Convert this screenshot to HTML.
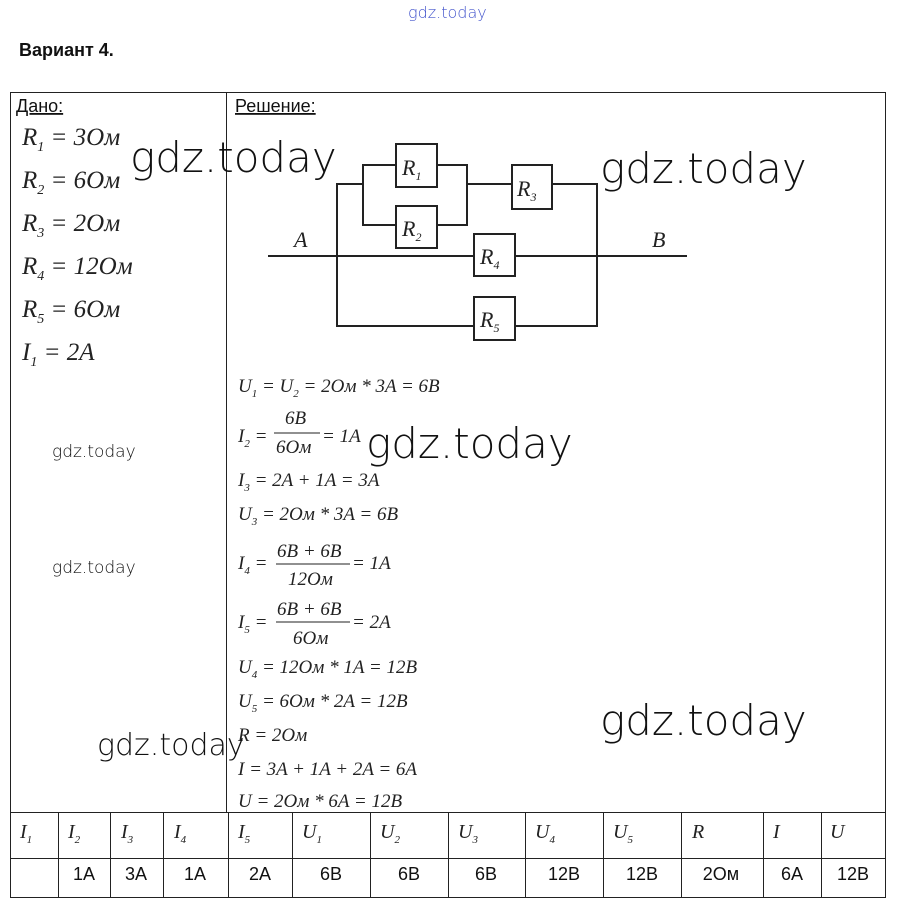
<!DOCTYPE html>
<html><head><meta charset="utf-8"><style>
body{margin:0;background:#fff}
svg{display:block}
.f{font-family:"Liberation Serif",serif;font-style:italic;fill:#222}
.s{font-family:"Liberation Sans",sans-serif;fill:#111}
.w{font-family:"DejaVu Sans","Liberation Sans",sans-serif;font-weight:200;fill:#111}
</style></head><body>
<svg width="897" height="911" xmlns="http://www.w3.org/2000/svg">
<text x="408" y="18" class="w" font-size="16" fill="#3344cc" style="fill:#4455cc">gdz.today</text>
<text x="19" y="56" class="s" font-size="18" font-weight="bold">Вариант 4.</text>
<g stroke="#222" stroke-width="1" fill="none">
<rect x="10.5" y="92.5" width="875" height="805"/>
<line x1="226.5" y1="92" x2="226.5" y2="812"/>
<line x1="10" y1="812.5" x2="886" y2="812.5"/>
<line x1="10" y1="858.5" x2="886" y2="858.5"/>
<line x1="58.5" y1="812" x2="58.5" y2="897"/>
<line x1="110.5" y1="812" x2="110.5" y2="897"/>
<line x1="163.5" y1="812" x2="163.5" y2="897"/>
<line x1="228.5" y1="812" x2="228.5" y2="897"/>
<line x1="292.5" y1="812" x2="292.5" y2="897"/>
<line x1="370.5" y1="812" x2="370.5" y2="897"/>
<line x1="448.5" y1="812" x2="448.5" y2="897"/>
<line x1="525.5" y1="812" x2="525.5" y2="897"/>
<line x1="603.5" y1="812" x2="603.5" y2="897"/>
<line x1="681.5" y1="812" x2="681.5" y2="897"/>
<line x1="763.5" y1="812" x2="763.5" y2="897"/>
<line x1="821.5" y1="812" x2="821.5" y2="897"/>
</g>
<text x="16" y="112" class="s" font-size="18" text-decoration="underline">Дано:</text>
<text x="235" y="112" class="s" font-size="18" text-decoration="underline">Решение:</text>
<g class="f" font-size="25">
<text x="22" y="145">R<tspan font-size="14" dy="6">1</tspan><tspan dy="-6"> = 3Ом</tspan></text>
<text x="22" y="188">R<tspan font-size="14" dy="6">2</tspan><tspan dy="-6"> = 6Ом</tspan></text>
<text x="22" y="231">R<tspan font-size="14" dy="6">3</tspan><tspan dy="-6"> = 2Ом</tspan></text>
<text x="22" y="274">R<tspan font-size="14" dy="6">4</tspan><tspan dy="-6"> = 12Ом</tspan></text>
<text x="22" y="317">R<tspan font-size="14" dy="6">5</tspan><tspan dy="-6"> = 6Ом</tspan></text>
<text x="22" y="360">I<tspan font-size="14" dy="6">1</tspan><tspan dy="-6"> = 2A</tspan></text>
</g>
<g stroke="#222" stroke-width="2" fill="none">
<line x1="268" y1="256" x2="687" y2="256"/>
<polyline points="363,184 337,184 337,326 597,326 597,184 552,184"/>
<polyline points="396,165 363,165 363,225 396,225"/>
<polyline points="437,165 467,165 467,225 437,225"/>
<line x1="467" y1="184" x2="512" y2="184"/>
<rect x="396" y="144" width="41" height="43" fill="#fff"/>
<rect x="396" y="206" width="41" height="42" fill="#fff"/>
<rect x="512" y="165" width="40" height="44" fill="#fff"/>
<rect x="474" y="234" width="41" height="42" fill="#fff"/>
<rect x="474" y="297" width="41" height="43" fill="#fff"/>
</g>
<g class="f" font-size="22">
<text x="402" y="175">R<tspan font-size="12" dy="5">1</tspan></text>
<text x="402" y="236">R<tspan font-size="12" dy="5">2</tspan></text>
<text x="517" y="196">R<tspan font-size="12" dy="5">3</tspan></text>
<text x="480" y="264">R<tspan font-size="12" dy="5">4</tspan></text>
<text x="480" y="327">R<tspan font-size="12" dy="5">5</tspan></text>
<text x="294" y="247">A</text>
<text x="652" y="247">B</text>
</g>
<g class="f" font-size="19">
<text x="238" y="392">U<tspan font-size="11" dy="5">1</tspan><tspan dy="-5"> = U</tspan><tspan font-size="11" dy="5">2</tspan><tspan dy="-5"> = 2Ом * 3A = 6B</tspan></text>
<text x="238" y="442">I<tspan font-size="11" dy="5">2</tspan><tspan dy="-5"> =</tspan></text>
<text x="285" y="424">6B</text><line x1="274" y1="433" x2="320" y2="433" stroke="#222"/><text x="276" y="453">6Ом</text>
<text x="322" y="442">= 1A</text>
<text x="238" y="486">I<tspan font-size="11" dy="5">3</tspan><tspan dy="-5"> = 2A + 1A = 3A</tspan></text>
<text x="238" y="520">U<tspan font-size="11" dy="5">3</tspan><tspan dy="-5"> = 2Ом * 3A = 6B</tspan></text>
<text x="238" y="569">I<tspan font-size="11" dy="5">4</tspan><tspan dy="-5"> =</tspan></text>
<text x="277" y="557">6B + 6B</text><line x1="276" y1="564" x2="350" y2="564" stroke="#222"/><text x="288" y="585">12Ом</text>
<text x="352" y="569">= 1A</text>
<text x="238" y="628">I<tspan font-size="11" dy="5">5</tspan><tspan dy="-5"> =</tspan></text>
<text x="277" y="615">6B + 6B</text><line x1="276" y1="622" x2="350" y2="622" stroke="#222"/><text x="293" y="644">6Ом</text>
<text x="352" y="628">= 2A</text>
<text x="238" y="673">U<tspan font-size="11" dy="5">4</tspan><tspan dy="-5"> = 12Ом * 1A = 12B</tspan></text>
<text x="238" y="707">U<tspan font-size="11" dy="5">5</tspan><tspan dy="-5"> = 6Ом * 2A = 12B</tspan></text>
<text x="238" y="741">R = 2Ом</text>
<text x="238" y="775">I = 3A + 1A + 2A = 6A</text>
<text x="238" y="807">U = 2Ом * 6A = 12B</text>
</g>
<g class="f" font-size="20">
<text x="20" y="838">I<tspan font-size="11" dy="5">1</tspan></text>
<text x="68" y="838">I<tspan font-size="11" dy="5">2</tspan></text>
<text x="121" y="838">I<tspan font-size="11" dy="5">3</tspan></text>
<text x="174" y="838">I<tspan font-size="11" dy="5">4</tspan></text>
<text x="238" y="838">I<tspan font-size="11" dy="5">5</tspan></text>
<text x="302" y="838">U<tspan font-size="11" dy="5">1</tspan></text>
<text x="380" y="838">U<tspan font-size="11" dy="5">2</tspan></text>
<text x="458" y="838">U<tspan font-size="11" dy="5">3</tspan></text>
<text x="535" y="838">U<tspan font-size="11" dy="5">4</tspan></text>
<text x="613" y="838">U<tspan font-size="11" dy="5">5</tspan></text>
<text x="692" y="838">R</text>
<text x="773" y="838">I</text>
<text x="830" y="838">U</text>
</g>
<g class="s" font-size="18" text-anchor="middle">
<text x="84" y="880">1A</text><text x="136" y="880">3A</text><text x="195" y="880">1A</text>
<text x="260" y="880">2A</text><text x="331" y="880">6B</text><text x="409" y="880">6B</text>
<text x="486" y="880">6B</text><text x="564" y="880">12B</text><text x="642" y="880">12B</text>
<text x="721" y="880">2Ом</text><text x="792" y="880">6A</text><text x="853" y="880">12B</text>
</g>
<g class="w">
<text x="130" y="172" font-size="42">gdz.today</text>
<text x="600" y="183" font-size="42">gdz.today</text>
<text x="366" y="458" font-size="42">gdz.today</text>
<text x="600" y="735" font-size="42">gdz.today</text>
<text x="97" y="755" font-size="30">gdz.today</text>
<text x="52" y="457" font-size="17">gdz.today</text>
<text x="52" y="573" font-size="17">gdz.today</text>
</g>
</svg>
</body></html>
